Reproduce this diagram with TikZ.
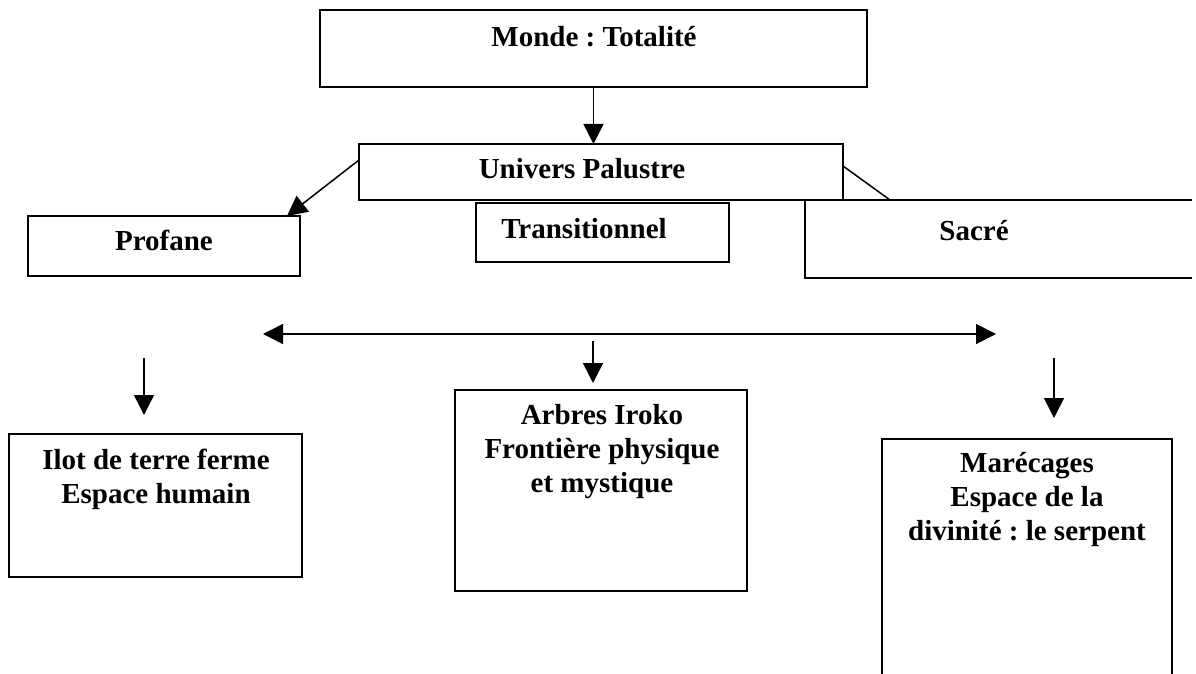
\documentclass[tikz,border=0pt]{standalone}
\usepackage{fontspec}
\setmainfont{Liberation Serif}
\usetikzlibrary{arrows.meta,calc}
\frenchspacing
\newcommand\lblfont{\fontsize{29}{34}\selectfont\bfseries}
\newcommand\up{\rule{0pt}{24pt}}
\begin{document}
\begin{tikzpicture}[x=1pt,y=-1pt,
  line width=1.5pt,
  box/.style={draw, rectangle, inner sep=0pt, outer sep=0pt},
  frame/.style={rectangle, inner sep=0pt, outer sep=0pt},
  lbl/.style={font=\lblfont, align=center, inner sep=0pt, anchor=north},
  arr/.style={-{Triangle[length=20pt,width=20pt]}},
  biarr/.style={{Triangle[length=20pt,width=20pt]}-{Triangle[length=20pt,width=20pt]}}]
\useasboundingbox (0,0) rectangle (1196,674);

% boxes
\node[box, minimum width=547pt, minimum height=77pt] (monde) at (593.5,48.5) {};
\node[box, minimum width=484pt, minimum height=56pt] (univ) at (601,172) {};
\node[box, minimum width=272pt, minimum height=60pt] (prof) at (164,246) {};
\node[box, minimum width=253pt, minimum height=59pt] (trans) at (602.5,232.5) {};
\node[frame, minimum width=387pt, minimum height=78pt] (sacre) at (998.5,239) {};
\node[box, minimum width=293pt, minimum height=143pt] (ilot) at (155.5,505.5) {};
\node[box, minimum width=292pt, minimum height=201pt] (arbres) at (601,490.5) {};
\node[frame, minimum width=290pt, minimum height=235pt] (mare) at (1027,556.5) {};

% open outlines
\draw (sacre.north east) -- (sacre.north west) -- (sacre.south west) -- (sacre.south east);
\draw (mare.south west) -- (mare.north west) -- (mare.north east) -- (mare.south east);

% labels
\node[lbl] (t-monde) at (594,22) {\up Monde : Totalité};
\node[lbl] (t-univ) at (582,154) {\up Univers Palustre};
\node[lbl] (t-prof) at (164,226) {\up Profane};
\node[lbl] (t-trans) at (584,214) {\up Transitionnel};
\node[lbl] (t-sacre) at (974,216) {\up Sacré};
\node[lbl] (t-ilot) at (156,445) {\up Ilot de terre ferme\\Espace humain};
\node[lbl] (t-arbres) at (602,400) {\up Arbres Iroko\\Frontière physique\\et mystique};
\node[lbl] (t-mare) at (1027,448) {\up Marécages\\Espace de la\\divinité : le serpent};

% connectors from the top
\draw[arr] (monde.south) -- (univ.north -| monde.south);
\draw[arr] ([yshift=12pt]univ.west) -- ([xshift=-13pt]prof.north east);
\draw ([yshift=6pt]univ.east) -- ([xshift=85pt]sacre.north west);

% horizontal link
\coordinate (hl) at (263,334);
\coordinate (hr) at (996,334);
\draw[biarr] (hl) -- (hr);

% downward arrows
\coordinate (d1) at (144,358);
\coordinate (d2) at (593,341);
\coordinate (d3) at (1054,358);
\draw[arr] (d1) -- ([yshift=19pt]ilot.north -| d1);
\draw[arr] (d2) -- ([yshift=7pt]arbres.north -| d2);
\draw[arr] (d3) -- ([yshift=21pt]mare.north -| d3);
\end{tikzpicture}
\end{document}
